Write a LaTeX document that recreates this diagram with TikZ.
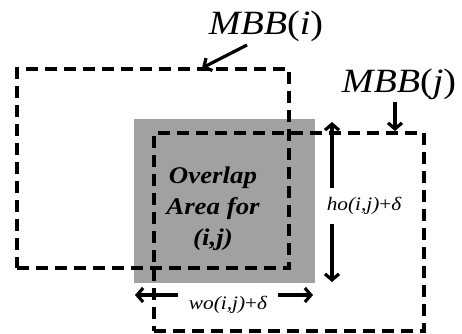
\documentclass[tikz,border=0pt]{standalone}
\usepackage{fontspec}
\setmainfont{Liberation Serif}
\usetikzlibrary{arrows.meta}
\begin{document}
\begin{tikzpicture}[x=1pt,y=-1pt,
  dashbox/.style={draw, line width=3.2pt, dash pattern=on 12pt off 7pt, inner sep=0pt, anchor=center},
  grayarea/.style={fill=black!37, inner sep=0pt, anchor=center},
  dimarrow/.style={line width=3.2pt, {Straight Barb[length=6pt,width=14pt]}-{Straight Barb[length=6pt,width=14pt]}},
  ptr/.style={line width=3.2pt, -{Straight Barb[length=6pt,width=14pt]}},
  biglabel/.style={font=\fontsize{34}{36}\selectfont\itshape, inner sep=0pt},
  dimlabel/.style={fill=white, font=\fontsize{19}{22}\selectfont\itshape},
]
\useasboundingbox (0,0) rectangle (462,333);
% gray overlap area
\node[grayarea, minimum width=181pt, minimum height=164pt] (gray) at (224.5,201) {};
% MBB boxes
\node[dashbox, minimum width=272pt, minimum height=199pt] (mbbi) at (153,168.5) {};
\node[dashbox, minimum width=270pt, minimum height=198pt] (mbbj) at (289,232) {};
% overlap text
\node[align=center, font=\fontsize{24}{31}\selectfont\bfseries\itshape] (ovl) at (213,209)
  {\scalebox{1.12}[1]{Overlap}\\\scalebox{1.12}[1]{Area for}\\\scalebox{1.12}[1]{(i,j)}};
% labels
\node[biglabel] (li) at (266,26) {\scalebox{1.12}[1]{MBB\textup{(}i\textup{)}}};
\node[biglabel] (lj) at (399,84) {\scalebox{1.12}[1]{MBB\textup{(}j\textup{)}}};
\coordinate (li0) at (247,45);
\coordinate (li1) at (202,68);
\coordinate (lj0) at (395,102);
\coordinate (lj1) at (395,131);
\draw[ptr] (li0) -- (li1);
\draw[ptr] (lj0) -- (lj1);
% dimension arrows
\coordinate (h0) at (332,122);
\coordinate (h1) at (332,282);
\coordinate (w0) at (135,295);
\coordinate (w1) at (313,295);
\draw[dimarrow] (h0) -- (h1);
\draw[dimarrow] (w0) -- (w1);
\node[dimlabel, inner xsep=8pt, inner ysep=9pt] (hl) at (364,206) {\scalebox{1.12}[1]{ho(i,j)\textup{+}δ}};
\node[dimlabel, inner xsep=11pt, inner ysep=7pt] (wl) at (228,305) {\scalebox{1.12}[1]{wo(i,j)\textup{+}δ}};
\end{tikzpicture}
\end{document}
